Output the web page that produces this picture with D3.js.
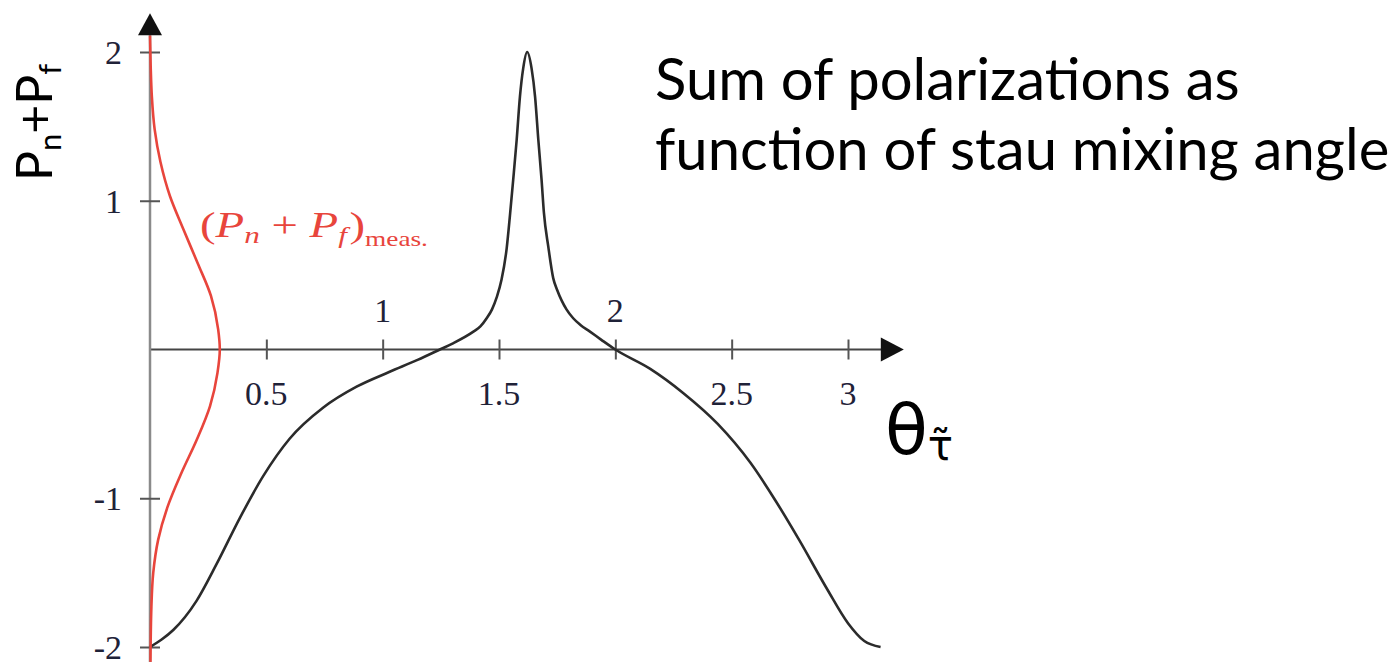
<!DOCTYPE html>
<html>
<head>
<meta charset="utf-8">
<script src="https://cdn.jsdelivr.net/npm/d3@7"></script>
<style>
  body { margin: 0; background: #fff; }
  svg { display: block; }
</style>
</head>
<body>
<svg id="chart" width="1400" height="665"></svg>
<script>
// Sum of the neutralino/final-state polarizations vs. stau mixing angle
const thetaVals = [0, 0.05, 0.10, 0.20, 0.287, 0.387, 0.487, 0.60, 0.745, 0.888, 1.03, 1.15, 1.246,
  1.30, 1.39, 1.42, 1.447, 1.47, 1.49, 1.511, 1.533, 1.547, 1.561, 1.576, 1.590, 1.604, 1.621,
  1.640, 1.655, 1.669, 1.683, 1.693, 1.712, 1.733, 1.75, 1.769, 1.79, 1.819, 1.85, 1.891, 1.94, 2.0,
  2.15, 2.29, 2.44, 2.58, 2.69, 2.79, 2.91, 3.0, 3.07, 3.14];
const sumVals = [-2.0, -1.95, -1.886, -1.69, -1.44, -1.13, -0.85, -0.60, -0.39, -0.25, -0.15, -0.07, 0.0,
  0.04, 0.12, 0.155, 0.21, 0.27, 0.35, 0.47, 0.68, 0.90, 1.14, 1.41, 1.70, 1.89, 2.0,
  1.89, 1.70, 1.41, 1.14, 0.92, 0.69, 0.48, 0.40, 0.33, 0.27, 0.21, 0.165, 0.12, 0.065, 0.0,
  -0.13, -0.29, -0.50, -0.76, -1.02, -1.28, -1.61, -1.84, -1.96, -2.0];

// Measured value: profile drawn along the vertical axis
const measP = [-2.1, -1.73, -1.50, -1.28, -1.06, -0.83, -0.61, -0.38, -0.157, 0, 0.135, 0.36, 0.58,
  0.81, 1.03, 1.26, 1.48, 1.70, 1.90, 2.11];
const measProfile = [0.002, 0.006, 0.014, 0.035, 0.075, 0.135, 0.20, 0.258, 0.29, 0.30, 0.293, 0.262, 0.205,
  0.143, 0.086, 0.045, 0.02, 0.008, 0.003, 0.0];

const xTickVals = [0.5, 1, 1.5, 2, 2.5, 3];
const xLabelsAbove = [1, 2];
const yTickVals = [2, 1, -1, -2];

const svg = d3.select("#chart");

const x = d3.scaleLinear().domain([0, 3]).range([150, 848]);
const y = d3.scaleLinear().domain([-2, 2]).range([647, 52]);

const xAxisEnd = 3.24;
const yAxisTop = 2.26, yAxisBottom = -2.1;

// ---- axis lines ----
svg.append("line")
  .attr("x1", x(0)).attr("x2", x(xAxisEnd) - 20)
  .attr("y1", y(0)).attr("y2", y(0))
  .attr("stroke", "#444").attr("stroke-width", 2.2);

svg.append("line")
  .attr("x1", x(0)).attr("x2", x(0))
  .attr("y1", y(yAxisBottom)).attr("y2", y(yAxisTop) + 20)
  .attr("stroke", "#8a8a8a").attr("stroke-width", 2.5);

// arrow heads
const xt = x(xAxisEnd), yt0 = y(0);
svg.append("path")
  .attr("d", `M${xt},${yt0} L${xt - 23},${yt0 - 12} L${xt - 23},${yt0 + 12} Z`)
  .attr("fill", "#111");
const yt = y(yAxisTop), xt0 = x(0);
svg.append("path")
  .attr("d", `M${xt0},${yt} L${xt0 - 12},${yt + 22} L${xt0 + 12},${yt + 22} Z`)
  .attr("fill", "#111");

// ---- ticks ----
const gx = svg.append("g")
  .attr("transform", `translate(0,${y(0) - 10})`)
  .call(d3.axisBottom(x).tickValues(xTickVals).tickSize(20).tickFormat(""));
gx.select(".domain").remove();
gx.selectAll(".tick line").attr("stroke", "#555").attr("stroke-width", 2);

const gy = svg.append("g")
  .attr("transform", `translate(${x(0) + 10},0)`)
  .call(d3.axisLeft(y).tickValues(yTickVals).tickSize(20).tickFormat(""));
gy.select(".domain").remove();
gy.selectAll(".tick line").attr("stroke", "#555").attr("stroke-width", 2);

// ---- tick labels ----
const serif = "'Liberation Serif', 'DejaVu Serif', serif";
svg.append("g").selectAll("text")
  .data(xTickVals)
  .join("text")
  .attr("x", d => x(d))
  .attr("y", d => xLabelsAbove.includes(d) ? y(0) - 28 : y(0) + 55)
  .attr("text-anchor", "middle")
  .attr("font-family", serif)
  .attr("font-size", 34)
  .attr("fill", "#1f2238")
  .text(d => String(d));

svg.append("g").selectAll("text")
  .data(yTickVals)
  .join("text")
  .attr("x", 122)
  .attr("y", d => y(d) + 12)
  .attr("text-anchor", "end")
  .attr("font-family", serif)
  .attr("font-size", 34)
  .attr("fill", "#1f2238")
  .text(d => d < 0 ? "-" + Math.abs(d) : String(d));

// ---- curves ----
const sumData = thetaVals.map((t, i) => [t, sumVals[i]]);
svg.append("path")
  .datum(sumData)
  .attr("fill", "none")
  .attr("stroke", "#2b2b2b")
  .attr("stroke-width", 2.6)
  .attr("stroke-linejoin", "round")
  .attr("d", d3.line().x(d => x(d[0])).y(d => y(d[1])).curve(d3.curveMonotoneX));

const measData = measP.map((p, i) => [measProfile[i], p]);
svg.append("path")
  .datum(measData)
  .attr("fill", "none")
  .attr("stroke", "#e8453c")
  .attr("stroke-width", 2.6)
  .attr("d", d3.line().x(d => x(d[0])).y(d => y(d[1])).curve(d3.curveMonotoneY));

// ---- red label ----
const lab = svg.append("text")
  .attr("transform", "translate(200,237) scale(1.3,1)")
  .attr("font-family", serif)
  .attr("font-size", 36)
  .attr("fill", "#e8453c");
lab.append("tspan").text("(");
lab.append("tspan").attr("font-style", "italic").text("P");
lab.append("tspan").attr("font-style", "italic").attr("font-size", 24).attr("dy", 6).text("n");
lab.append("tspan").attr("dy", -6).text(" + ");
lab.append("tspan").attr("font-style", "italic").text("P");
lab.append("tspan").attr("font-style", "italic").attr("font-size", 24).attr("dy", 6).text("f");
lab.append("tspan").attr("dy", -6).attr("dx", 2).text(")");
lab.append("tspan").attr("font-size", 21).attr("dy", 9).text("meas.");

// ---- axis titles ----
const ytTitle = svg.append("text")
  .attr("transform", "translate(52,181) rotate(-90)")
  .attr("font-family", "Lato, 'Open Sans', sans-serif")
  .attr("font-size", 50)
  .attr("fill", "#000");
ytTitle.append("tspan").text("P");
ytTitle.append("tspan").attr("font-size", 31).attr("dy", 9).text("n");
ytTitle.append("tspan").attr("dy", -9).text("+P");
ytTitle.append("tspan").attr("font-size", 31).attr("dy", 9).text("f");

const xtTitle = svg.append("text")
  .attr("x", 885).attr("y", 454)
  .attr("font-family", "'DejaVu Sans', sans-serif")
  .attr("fill", "#000");
xtTitle.append("tspan").attr("font-size", 70).text("θ");
xtTitle.append("tspan").attr("font-size", 42).attr("dy", 6).text("τ\u0303");

// ---- title ----
const title = svg.append("text")
  .attr("font-family", "Lato, 'Open Sans', sans-serif")
  .attr("font-size", 58)
  .attr("fill", "#000");
title.append("tspan").attr("x", 655).attr("y", 100).text("Sum of polarizations as");
title.append("tspan").attr("x", 655).attr("y", 170).text("function of stau mixing angle");
</script>
</body>
</html>
